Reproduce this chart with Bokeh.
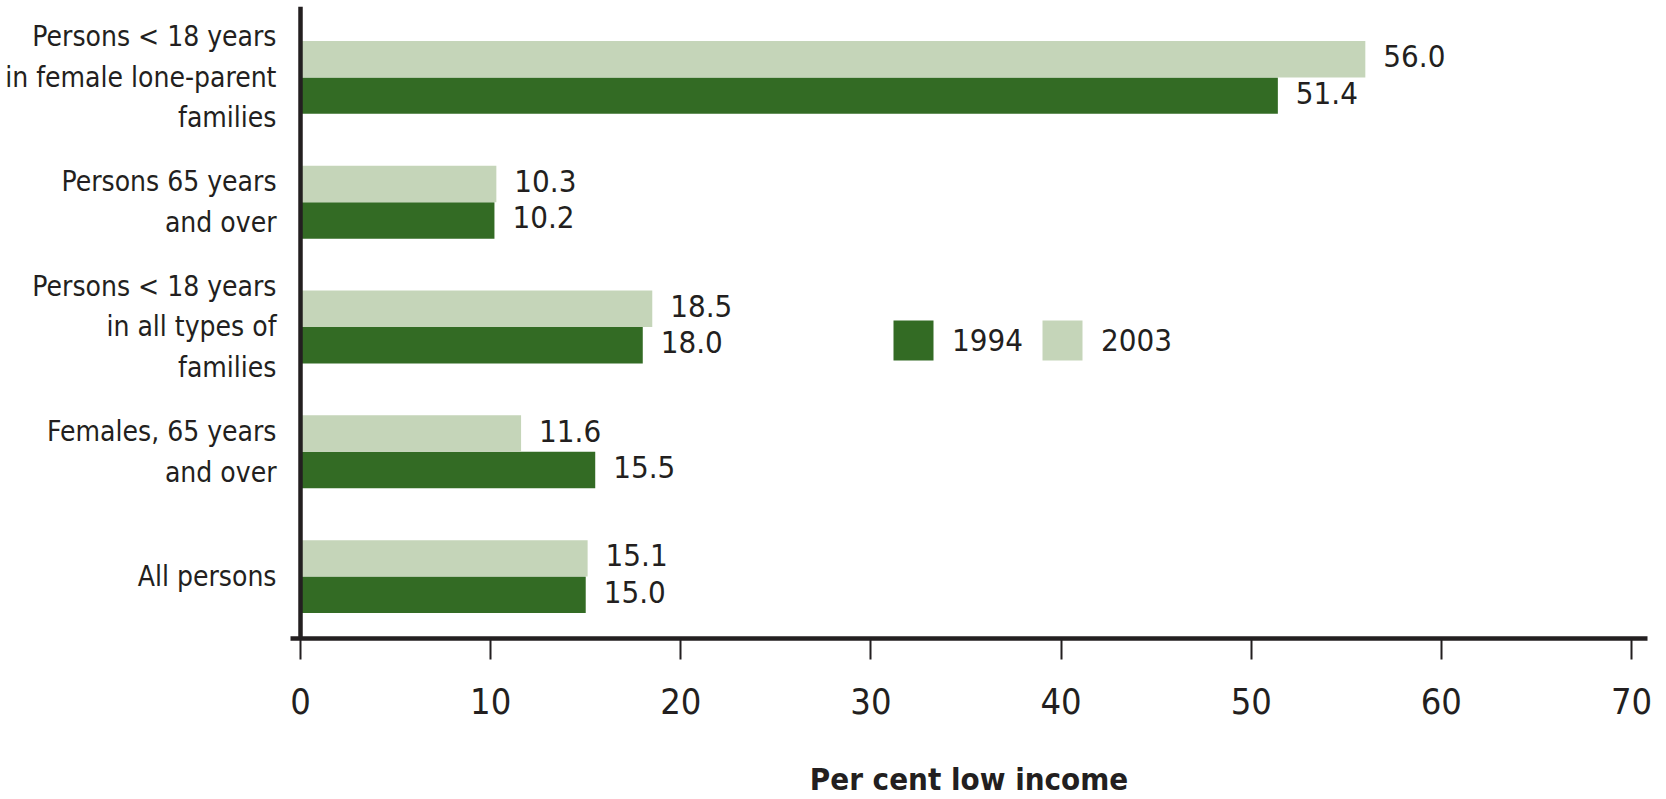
from bokeh.plotting import figure
from bokeh.models import (Range1d, FixedTicker, Span, Legend, LegendItem,
                          ColumnDataSource)
from bokeh.core.properties import value
from bokeh.embed import file_html
from bokeh.resources import INLINE

# ---- data (bottom to top) ----
categories = [
    "All persons",
    "Females, 65 years\nand over",
    "Persons < 18 years\nin all types of\nfamilies",
    "Persons 65 years\nand over",
    "Persons < 18 years\nin female lone-parent\nfamilies",
]
values_1994 = [15.0, 15.5, 18.0, 10.2, 51.4]
values_2003 = [15.1, 11.6, 18.5, 10.3, 56.0]
series_labels = ["1994", "2003"]
x_ticks = [0, 10, 20, 30, 40, 50, 60, 70]
x_title = "Per cent low income"

# ---- style ----
DARK = "#336B24"
LIGHT = "#C5D5B9"
INK = "#231F20"
FONT = "'Liberation Sans Narrow', 'DejaVu Sans Condensed', 'Arial Narrow', sans-serif"
BAR_H = 0.292

pos = list(range(len(categories)))
src = ColumnDataSource(dict(
    y1994=[p - BAR_H / 2 for p in pos],
    y2003=[p + BAR_H / 2 for p in pos],
    v1994=values_1994,
    v2003=values_2003,
    t1994=[f"{v:.1f}" for v in values_1994],
    t2003=[f"{v:.1f}" for v in values_2003],
))

p = figure(width=1666, height=799, output_backend="svg", toolbar_location=None,
           x_range=Range1d(-0.526, 70.84), y_range=Range1d(-0.496, 4.568),
           min_border_left=290, min_border_right=19, min_border_top=6,
           min_border_bottom=160)
p.background_fill_color = "white"
p.border_fill_color = "white"
p.outline_line_color = None
p.grid.visible = False

r94 = p.hbar(y="y1994", left=0, right="v1994", height=BAR_H, source=src,
             fill_color=DARK, line_color=None)
r03 = p.hbar(y="y2003", left=0, right="v2003", height=BAR_H, source=src,
             fill_color=LIGHT, line_color=None)

for key in ("1994", "2003"):
    p.text(x="v" + key, y="y" + key, text="t" + key, source=src, x_offset=18,
           y_offset=-3, text_baseline="middle", text_align="left",
           text_font=value(FONT), text_font_size="31px", text_color=INK)

p.add_layout(Span(location=0, dimension="height", line_color=INK, line_width=4.5))

# x axis
xa = p.xaxis[0]
xa.ticker = FixedTicker(ticks=x_ticks)
xa.axis_line_color = INK
xa.axis_line_width = 4.5
xa.major_tick_in = 0
xa.major_tick_out = 21
xa.major_tick_line_width = 2
xa.major_tick_line_color = INK
xa.minor_tick_line_color = None
xa.major_label_text_font = FONT
xa.major_label_text_font_size = "36px"
xa.major_label_text_color = INK
xa.major_label_standoff = 28
xa.axis_label = x_title
xa.axis_label_text_font = FONT
xa.axis_label_text_font_style = "bold"
xa.axis_label_text_font_size = "31px"
xa.axis_label_text_color = INK
xa.axis_label_standoff = 44

# y axis (category labels)
ya = p.yaxis[0]
ya.ticker = FixedTicker(ticks=pos)
ya.major_label_overrides = {i: categories[i] for i in pos}
ya.axis_line_color = None
ya.major_tick_line_color = None
ya.minor_tick_line_color = None
ya.major_label_standoff = 8
ya.major_label_text_font = FONT
ya.major_label_text_font_size = "28px"
ya.major_label_text_line_height = 1.23
ya.major_label_text_color = INK

legend = Legend(items=[LegendItem(label=series_labels[0], renderers=[r94]),
                       LegendItem(label=series_labels[1], renderers=[r03])],
                orientation="horizontal", location=(598, 273),
                glyph_width=50, glyph_height=50, label_standoff=14, spacing=14,
                padding=0, margin=0, border_line_color=None,
                background_fill_alpha=0, label_text_font=FONT,
                label_text_font_size="31px", label_text_color=INK,
                label_height=50, label_width=60)
p.add_layout(legend)

open("out.html", "w").write(file_html(p, INLINE))
